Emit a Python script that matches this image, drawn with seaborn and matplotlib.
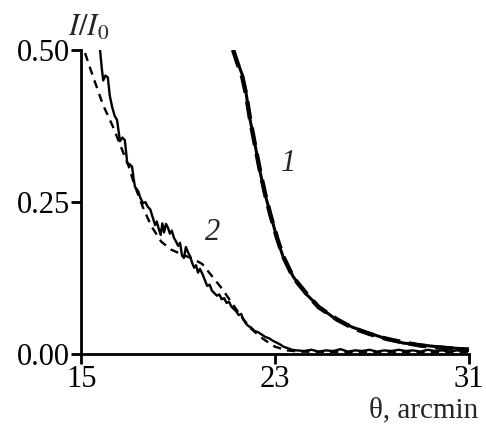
# Angular intensity profiles I/I0 vs theta, curves 1 and 2

import matplotlib
matplotlib.use("Agg")
import matplotlib.pyplot as plt
import numpy as np
import pandas as pd
import seaborn as sns

# curve 1 (measured, solid) and its fit (dashed) - nearly identical
theta1 = [21.27, 21.45, 21.64, 21.8, 21.97, 22.17, 22.38, 22.59, 22.8, 23.08,
          23.33, 23.75, 24.3, 24.8, 25.55, 26.2, 26.9, 27.6, 28.3, 29.0,
          29.7, 30.3, 31.0]
i1 = [0.500, 0.480, 0.460, 0.430, 0.385, 0.345, 0.300, 0.262, 0.232, 0.190,
      0.160, 0.127, 0.098, 0.078, 0.056, 0.044, 0.034, 0.025, 0.018, 0.015,
      0.012, 0.010, 0.008]
i1_fit = [0.500, 0.478, 0.457, 0.428, 0.386, 0.344, 0.301, 0.263, 0.230, 0.191,
          0.161, 0.126, 0.099, 0.077, 0.057, 0.043, 0.033, 0.025, 0.019, 0.014,
          0.011, 0.009, 0.007]

# curve 2 measured (noisy, solid)
theta2 = [15.78, 15.85, 15.91, 16.0, 16.1, 16.18, 16.28, 16.38, 16.48, 16.55,
          16.6, 16.7, 16.8, 16.86, 16.9, 17.0, 17.1, 17.16, 17.22, 17.35,
          17.45, 17.56, 17.65, 17.75, 17.85, 17.95, 18.05, 18.12, 18.2, 18.28,
          18.35, 18.42, 18.5, 18.58, 18.66, 18.74, 18.82, 18.9, 19.0, 19.08,
          19.16, 19.24, 19.32, 19.4, 19.5, 19.58, 19.66, 19.74, 19.82, 19.9,
          20.0, 20.1, 20.2, 20.3, 20.4, 20.5, 20.6, 20.7, 20.8, 20.9,
          21.0, 21.1, 21.2, 21.3, 21.4, 21.5, 21.6, 21.7, 21.8, 21.9,
          22.0, 22.15, 22.3, 22.45, 22.6, 22.75, 22.9, 23.05, 23.2, 23.35,
          23.5, 23.7, 23.9, 24.2, 24.5, 24.8, 25.1, 25.4, 25.7, 26.0,
          26.3, 26.6, 26.9, 27.2, 27.5, 27.8, 28.1, 28.4, 28.7, 29.0,
          29.3, 29.6, 29.9, 30.2, 30.5, 30.8, 31.0]
i2 = [0.500, 0.470, 0.450, 0.458, 0.455, 0.425, 0.406, 0.392, 0.385, 0.365,
      0.350, 0.356, 0.352, 0.330, 0.314, 0.312, 0.308, 0.290, 0.275, 0.268,
      0.256, 0.248, 0.250, 0.242, 0.238, 0.225, 0.212, 0.218, 0.206, 0.196,
      0.215, 0.200, 0.214, 0.208, 0.198, 0.203, 0.192, 0.186, 0.178, 0.183,
      0.162, 0.158, 0.176, 0.168, 0.160, 0.150, 0.142, 0.146, 0.134, 0.140,
      0.132, 0.122, 0.112, 0.114, 0.104, 0.100, 0.096, 0.098, 0.090, 0.092,
      0.084, 0.086, 0.078, 0.074, 0.070, 0.064, 0.066, 0.056, 0.050, 0.046,
      0.044, 0.038, 0.036, 0.032, 0.028, 0.026, 0.022, 0.019, 0.016, 0.012,
      0.010, 0.007, 0.006, 0.005, 0.007, 0.004, 0.006, 0.005, 0.008, 0.004,
      0.006, 0.005, 0.007, 0.004, 0.006, 0.005, 0.007, 0.005, 0.006, 0.004,
      0.007, 0.005, 0.006, 0.004, 0.006, 0.005, 0.006]

# curve 2 fit (dashed)
theta2_fit = [15.16, 15.5, 15.9, 16.3, 16.6, 16.95, 17.2, 17.56, 17.9, 18.3,
              18.7, 19.2, 19.6, 20.0, 20.4, 20.8, 21.2, 21.6, 22.0, 22.5,
              23.0, 23.5, 24.0, 26.0, 28.0, 31.0]
i2_fit = [0.495, 0.455, 0.410, 0.375, 0.345, 0.310, 0.278, 0.240, 0.210, 0.185,
          0.172, 0.163, 0.157, 0.148, 0.128, 0.108, 0.085, 0.062, 0.042, 0.025,
          0.012, 0.006, 0.004, 0.003, 0.003, 0.003]

x_ticks = [15, 23, 31]
y_ticks = [0.0, 0.25, 0.5]
y_tick_labels = ['0.00', '0.25', '0.50']

sns.set_theme(style='ticks')
plt.rcParams['font.family'] = ['Liberation Serif', 'DejaVu Serif']
plt.rcParams['mathtext.fontset'] = 'stix'

fig = plt.figure(figsize=(4.86, 4.24), dpi=100)
ax = fig.add_axes([0.167, 0.165, 0.798, 0.717])

df1 = pd.DataFrame({'theta': theta1, 'I': i1})
df1f = pd.DataFrame({'theta': theta1, 'I': i1_fit})
df2 = pd.DataFrame({'theta': theta2, 'I': i2})
df2f = pd.DataFrame({'theta': theta2_fit, 'I': i2_fit})

sns.lineplot(data=df1, x='theta', y='I', estimator=None, sort=False,
             color='black', lw=2.2, ax=ax)
sns.lineplot(data=df1f, x='theta', y='I', estimator=None, sort=False,
             color='black', lw=3.2, linestyle='--', ax=ax)
ax.lines[-1].set_dashes([4, 2])
sns.lineplot(data=df2, x='theta', y='I', estimator=None, sort=False,
             color='black', lw=1.7, ax=ax)
sns.lineplot(data=df2f, x='theta', y='I', estimator=None, sort=False,
             color='black', lw=1.7, linestyle='--', ax=ax)
ax.lines[-1].set_dashes([3.5, 2.6])

ax.set_xlim(15, 31)
ax.set_ylim(0, 0.5)
ax.set_xticks(x_ticks)
ax.set_yticks(y_ticks)
ax.set_yticklabels(y_tick_labels)
ax.set_xlabel('')
ax.set_ylabel('')
sns.despine(ax=ax)
for s in ['left', 'bottom']:
    ax.spines[s].set_linewidth(2)
    ax.spines[s].set_color('black')
ax.tick_params(axis='both', labelsize=22, width=2, length=7, color='black',
               pad=1, labelcolor='black')

# curve labels
ax.text(23.54, 0.314, '1', fontsize=22, fontstyle='italic', ha='center', va='center')
ax.text(20.44, 0.200, '2', fontsize=22, fontstyle='italic', ha='center', va='center')

fig.text(0.14, 0.915, r'$I/I_0$', fontsize=22, ha='left', va='baseline')
fig.text(0.985, 0.0165, 'θ, arcmin', fontsize=21, ha='right', va='baseline')

plt.savefig('out.png', dpi=100)
plt.close()
